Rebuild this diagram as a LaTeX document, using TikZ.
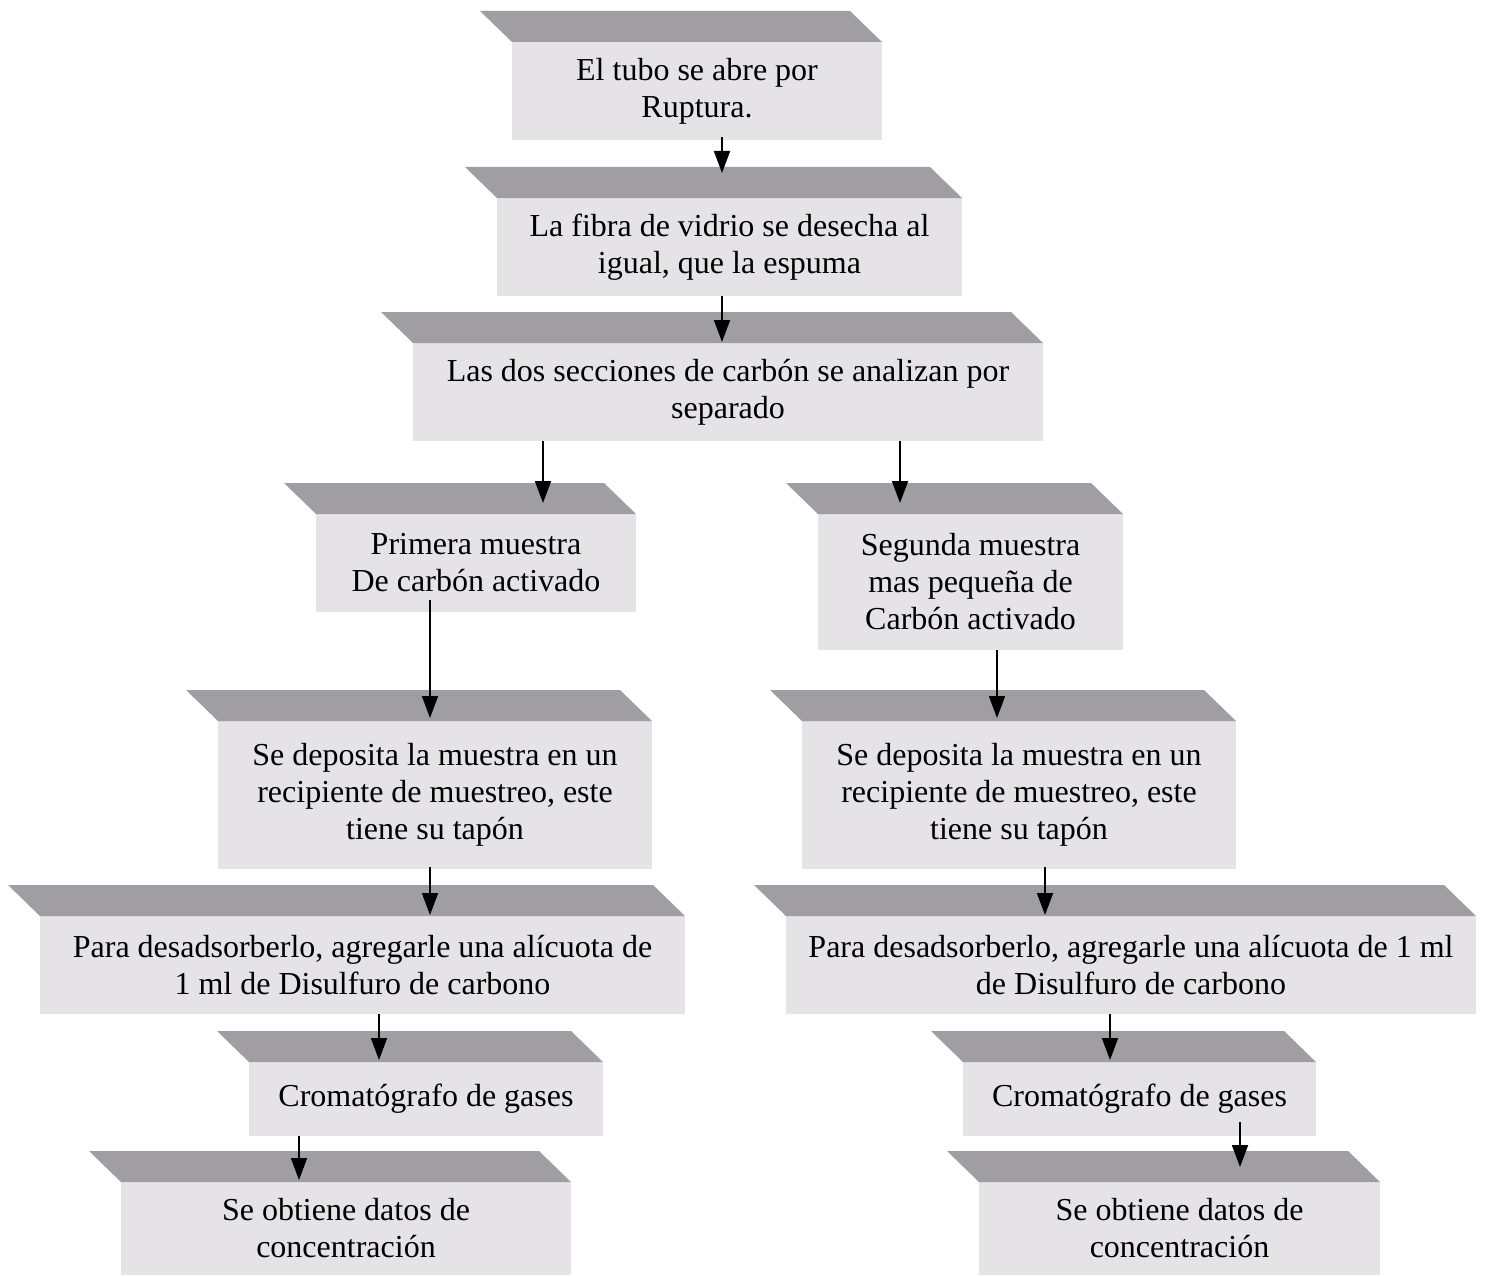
\documentclass[tikz,border=0pt]{standalone}
\usepackage{fontspec}
\setmainfont{Liberation Serif}
\usetikzlibrary{arrows.meta}
\definecolor{lidgray}{RGB}{160,158,163}
\definecolor{facegray}{RGB}{230,227,230}
\tikzset{
  face/.style={fill=facegray, inner sep=0pt, outer sep=0pt, align=center,
    font=\fontsize{32}{37}\selectfont},
  lid/.style={fill=lidgray},
  arr/.style={line width=1.8pt, -{Triangle[width=16pt,length=22pt]}}
}
\newcommand\flowbox[6]{%
  \node[face, minimum width={#4pt-#2pt}, minimum height={#5pt-#3pt}] (#1)
    at ({(#2+#4)/2},{-(#3+#5)/2}) {#6};
  \fill[lid] ([shift={(-32pt,31pt)}]#1.north west) -- ([shift={(-32pt,31pt)}]#1.north east)
    -- (#1.north east) -- (#1.north west) -- cycle;
}
\begin{document}
\begin{tikzpicture}[x=1pt,y=1pt]
\fill[white] (0,0) rectangle (1487,-1276);
\useasboundingbox (0,0) rectangle (1487,-1276);

\flowbox{B1}{512}{42}{882}{140}{El tubo se abre por\\Ruptura.}
\flowbox{B2}{497}{198}{962}{296}{La fibra de vidrio se desecha al\\igual, que la espuma}
\flowbox{B3}{413}{343}{1043}{441}{Las dos secciones de carbón se analizan por\\separado}
\flowbox{B4}{316}{514}{636}{612}{Primera muestra\\De carbón activado}
\flowbox{B5}{818}{514}{1123}{650}{Segunda muestra\\mas pequeña de\\Carbón activado}
\flowbox{B6}{218}{721}{652}{869}{Se deposita la muestra en un\\recipiente de muestreo, este\\tiene su tapón}
\flowbox{B7}{802}{721}{1236}{869}{Se deposita la muestra en un\\recipiente de muestreo, este\\tiene su tapón}
\flowbox{B8}{40}{916}{685}{1014}{Para desadsorberlo, agregarle una alícuota de\\1 ml de Disulfuro de carbono}
\flowbox{B9}{786}{916}{1476}{1014}{Para desadsorberlo, agregarle una alícuota de 1 ml\\de Disulfuro de carbono}
\flowbox{B10}{249}{1062}{603}{1136}{Cromatógrafo de gases}
\flowbox{B11}{963}{1062}{1316}{1136}{Cromatógrafo de gases}
\flowbox{B12}{121}{1182}{571}{1275}{Se obtiene datos de\\concentración}
\flowbox{B13}{979}{1182}{1380}{1275}{Se obtiene datos de\\concentración}

\draw[arr] ([xshift=25pt,yshift=3pt]B1.south) -- ([xshift=-7.5pt,yshift=25pt]B2.north);
\draw[arr] ([xshift=-7.5pt]B2.south) -- ([xshift=-6pt,yshift=1pt]B3.north);
\draw[arr] ([xshift=-185pt]B3.south) -- ([xshift=67pt,yshift=11pt]B4.north);
\draw[arr] ([xshift=172pt]B3.south) -- ([xshift=-70.5pt,yshift=11pt]B5.north);
\draw[arr] ([xshift=-46pt,yshift=12pt]B4.south) -- ([xshift=-5pt,yshift=3pt]B6.north);
\draw[arr] ([xshift=26.5pt]B5.south) -- ([xshift=-22pt,yshift=3pt]B7.north);
\draw[arr] ([xshift=-5pt,yshift=2pt]B6.south) -- ([xshift=67.5pt,yshift=1pt]B8.north);
\draw[arr] ([xshift=26pt,yshift=2pt]B7.south) -- ([xshift=-86pt,yshift=1pt]B9.north);
\draw[arr] ([xshift=16.5pt]B8.south) -- ([xshift=-47pt,yshift=2pt]B10.north);
\draw[arr] ([xshift=-21pt]B9.south) -- ([xshift=-29.5pt,yshift=2pt]B11.north);
\draw[arr] ([xshift=-127pt]B10.south) -- ([xshift=-47pt,yshift=2pt]B12.north);
\draw[arr] ([xshift=100.5pt,yshift=14pt]B11.south) -- ([xshift=60.5pt,yshift=15pt]B13.north);
\end{tikzpicture}
\end{document}
